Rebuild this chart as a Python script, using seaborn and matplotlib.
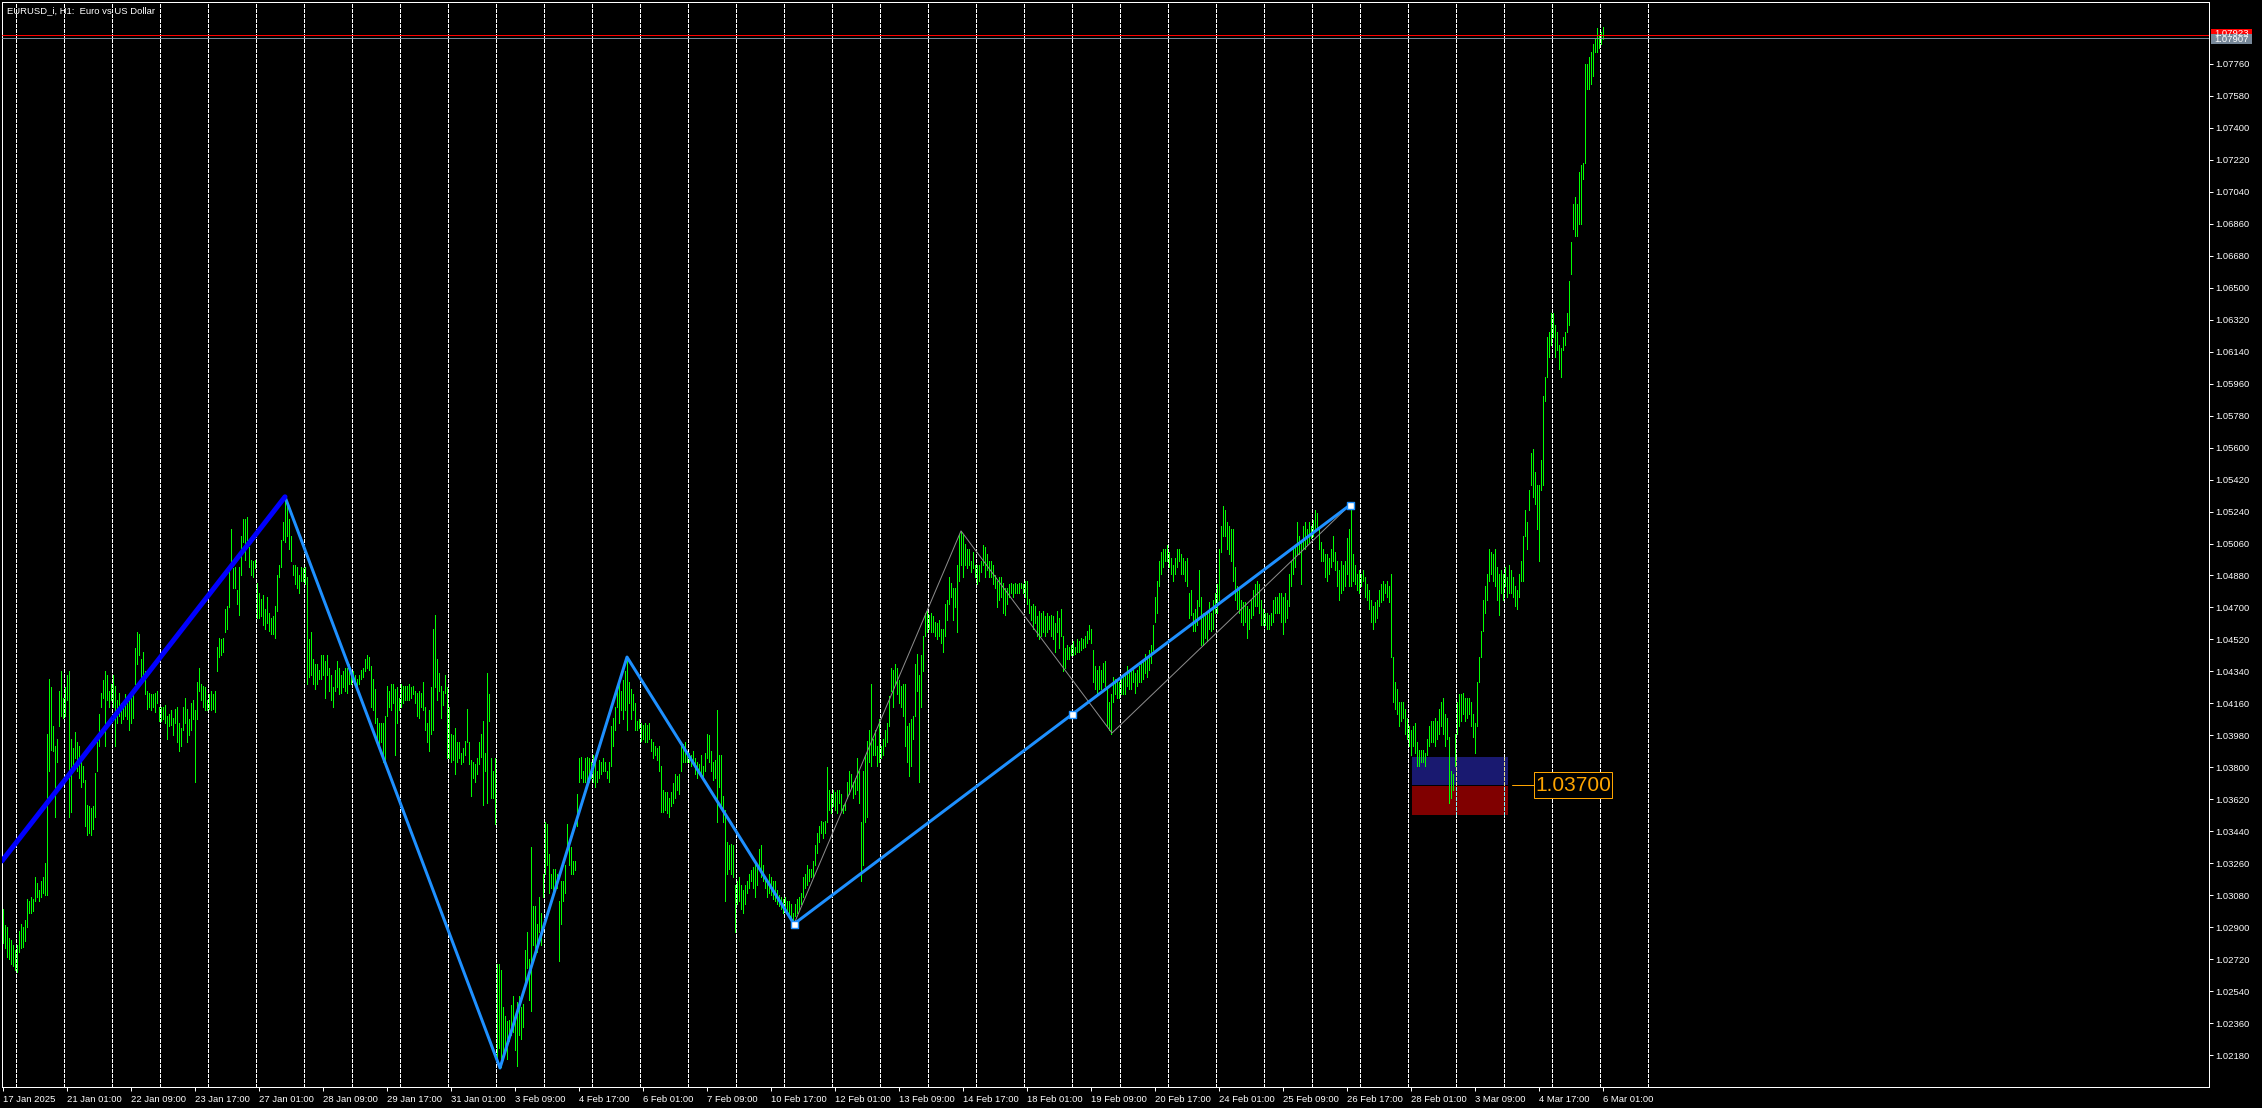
"""
Recreación del gráfico EURUSD_i H1 (estilo MetaTrader) con seaborn + matplotlib.
"""
import numpy as np
import pandas as pd
import matplotlib
matplotlib.use("Agg")
import matplotlib.pyplot as plt
from matplotlib.patches import Rectangle
import seaborn as sns

# ── Datos ────────────────────────────────────────────────────────────────────
SYMBOL_TITLE = "EURUSD_i, H1:  Euro vs US Dollar"

# Máximos / mínimos de cada vela H1, en pips sobre 1.0000 (precio = 1 + v/10000)
BAR_HIGH = [
    300, 291, 290, 284, 283, 280, 277, 280, 288, 292, 290, 294, 306, 305, 307, 306, 318, 315, 311, 316, 318, 326, 399,  # 0-22
    430, 425, 403, 392, 396, 423, 434, 419, 425, 432, 434, 396, 391, 400, 394, 392, 383, 381, 373, 359, 358, 357, 358, 377,  # 23-46
    394, 410, 422, 429, 434, 432, 423, 427, 432, 426, 418, 422, 416, 416, 421, 416, 418, 419, 423, 447, 456, 455, 441, 445,  # 47-70
    434, 423, 422, 421, 421, 422, 423, 414, 414, 414, 415, 409, 410, 412, 408, 413, 414, 405, 402, 414, 419, 413, 407, 416,  # 71-94
    418, 412, 428, 436, 427, 426, 425, 418, 421, 423, 421, 423, 448, 453, 452, 453, 469, 471, 494, 514, 492, 493, 480, 493,  # 95-118
    510, 520, 520, 521, 504, 497, 496, 497, 484, 478, 475, 477, 469, 476, 467, 464, 465, 471, 488, 494, 508, 518, 532, 528,  # 119-142
    520, 510, 494, 494, 493, 488, 493, 492, 493, 487, 452, 456, 441, 438, 438, 435, 443, 443, 440, 443, 436, 432, 425, 435,  # 143-166
    440, 436, 432, 434, 436, 436, 438, 435, 434, 432, 430, 432, 435, 436, 441, 443, 442, 437, 430, 424, 408, 405, 405, 405,  # 167-190
    409, 426, 423, 427, 427, 424, 425, 419, 427, 426, 426, 426, 427, 425, 426, 423, 422, 423, 422, 428, 414, 405, 412, 425,  # 191-214
    458, 466, 441, 433, 426, 423, 432, 425, 414, 399, 398, 402, 394, 394, 388, 391, 395, 413, 394, 384, 383, 382, 385, 394,  # 215-238
    399, 406, 388, 433, 421, 385, 378, 385, 269, 269, 266, 245, 240, 237, 238, 246, 251, 239, 248, 251, 245, 247, 277, 287,  # 239-262
    272, 335, 302, 302, 292, 307, 298, 320, 349, 348, 331, 320, 323, 323, 320, 305, 316, 316, 325, 348, 338, 335, 327, 327,  # 263-286
    365, 385, 386, 378, 385, 386, 385, 383, 387, 385, 378, 384, 383, 385, 383, 378, 383, 403, 408, 414, 425, 429, 423, 429,  # 287-310
    434, 442, 428, 424, 421, 416, 406, 407, 405, 404, 405, 404, 405, 396, 394, 392, 391, 392, 381, 367, 366, 366, 363, 366,  # 311-334
    371, 376, 375, 376, 392, 393, 394, 389, 388, 387, 389, 385, 383, 382, 387, 381, 388, 399, 398, 389, 383, 384, 412, 387,  # 335-358
    387, 364, 356, 338, 336, 337, 336, 314, 316, 318, 314, 311, 314, 316, 320, 322, 324, 327, 325, 334, 336, 325, 319, 316,  # 359-382
    320, 318, 316, 316, 311, 308, 307, 306, 307, 305, 305, 303, 298, 303, 306, 307, 309, 318, 320, 325, 323, 323, 327, 336,  # 383-406
    343, 347, 350, 349, 350, 380, 367, 365, 367, 366, 367, 367, 365, 359, 360, 372, 378, 376, 372, 374, 385, 378, 349, 378,  # 407-430
    387, 395, 401, 427, 396, 401, 392, 407, 392, 396, 401, 405, 420, 436, 435, 438, 436, 429, 426, 427, 427, 403, 405, 407,  # 431-454
    409, 438, 444, 432, 443, 454, 467, 468, 466, 467, 465, 462, 461, 463, 458, 458, 472, 474, 487, 484, 481, 481, 494, 511,  # 455-478
    513, 511, 506, 503, 503, 496, 501, 494, 494, 494, 496, 505, 504, 500, 496, 496, 494, 488, 485, 487, 487, 484, 481, 481,  # 479-502
    483, 484, 483, 484, 483, 484, 484, 483, 485, 485, 475, 471, 472, 471, 465, 468, 467, 468, 465, 467, 465, 466, 465, 461,  # 503-526
    468, 464, 469, 454, 447, 449, 448, 449, 451, 448, 452, 451, 453, 452, 454, 457, 460, 458, 446, 437, 435, 437, 435, 439,  # 527-550
    440, 424, 417, 421, 431, 430, 428, 428, 430, 431, 433, 437, 435, 435, 435, 433, 435, 437, 439, 440, 444, 442, 446, 449,  # 551-574
    460, 476, 485, 496, 501, 503, 503, 505, 501, 498, 494, 498, 503, 503, 500, 498, 496, 498, 478, 480, 467, 469, 474, 491,  # 575-598
    476, 467, 467, 467, 473, 467, 474, 478, 483, 503, 516, 527, 525, 518, 516, 514, 514, 493, 482, 480, 474, 473, 473, 471,  # 599-622
    469, 474, 480, 483, 485, 483, 474, 469, 467, 467, 466, 467, 474, 476, 476, 478, 478, 476, 478, 474, 489, 496, 503, 505,  # 623-646
    518, 510, 507, 516, 518, 514, 518, 516, 519, 525, 523, 514, 507, 503, 500, 500, 498, 503, 510, 501, 496, 491, 496, 494,  # 647-670
    496, 509, 514, 527, 500, 494, 489, 491, 489, 491, 487, 483, 480, 474, 471, 473, 474, 480, 483, 485, 483, 485, 482, 489,  # 671-694
    442, 428, 424, 417, 417, 417, 413, 408, 403, 401, 403, 405, 394, 390, 390, 390, 388, 396, 403, 406, 406, 408, 406, 413,  # 695-718
    417, 419, 410, 408, 397, 378, 376, 399, 417, 421, 421, 422, 419, 419, 419, 417, 410, 405, 428, 442, 457, 474, 482, 489,  # 719-742
    503, 501, 500, 503, 493, 489, 491, 489, 493, 487, 494, 491, 487, 482, 480, 489, 496, 510, 525, 518, 536, 557, 559, 546,  # 743-766
    539, 539, 553, 589, 600, 622, 625, 636, 636, 629, 625, 618, 616, 622, 625, 636, 654, 676, 697, 701, 697, 715, 719, 720,  # 767-790
    776, 776, 780, 783, 787, 790, 796, 792, 794, 797,  # 791-800
]
BAR_LOW = [
    281, 278, 273, 272, 269, 268, 266, 265, 276, 278, 279, 282, 290, 298, 298, 299, 305, 307, 305, 307, 309, 308, 308,  # 0-22
    378, 390, 389, 352, 383, 403, 409, 408, 409, 418, 352, 355, 378, 385, 378, 374, 369, 372, 347, 342, 343, 342, 345, 352,  # 23-46
    378, 392, 414, 419, 392, 418, 414, 418, 414, 392, 405, 409, 405, 407, 409, 407, 401, 405, 408, 427, 438, 443, 429, 432,  # 47-70
    421, 413, 414, 412, 414, 411, 416, 406, 406, 407, 405, 396, 403, 404, 398, 405, 394, 389, 392, 401, 405, 394, 398, 401,  # 71-94
    407, 372, 407, 423, 418, 414, 412, 412, 413, 412, 413, 411, 434, 442, 443, 445, 456, 458, 470, 492, 481, 481, 472, 466,  # 95-118
    488, 507, 497, 508, 493, 488, 487, 492, 464, 464, 465, 460, 458, 461, 457, 455, 455, 453, 468, 487, 493, 508, 507, 510,  # 119-142
    503, 496, 488, 483, 481, 478, 485, 485, 483, 427, 431, 432, 427, 424, 427, 430, 430, 432, 419, 432, 423, 418, 414, 423,  # 143-166
    425, 421, 422, 425, 423, 422, 427, 427, 430, 426, 425, 427, 430, 431, 434, 436, 435, 414, 412, 405, 396, 392, 394, 383,  # 167-190
    383, 409, 414, 412, 416, 387, 405, 412, 414, 416, 418, 418, 418, 419, 421, 416, 409, 408, 414, 412, 401, 394, 389, 399,  # 191-214
    401, 425, 418, 423, 408, 415, 422, 385, 385, 383, 384, 376, 383, 385, 382, 383, 387, 394, 382, 364, 374, 372, 376, 382,  # 215-238
    386, 359, 378, 360, 406, 363, 363, 348, 214, 222, 211, 219, 220, 216, 226, 229, 231, 221, 212, 229, 227, 234, 258, 267,  # 239-262
    249, 243, 280, 276, 276, 287, 280, 307, 320, 325, 309, 312, 307, 314, 312, 271, 292, 305, 309, 334, 325, 320, 320, 322,  # 263-286
    347, 372, 374, 372, 372, 369, 372, 374, 372, 369, 372, 374, 376, 378, 378, 374, 372, 381, 392, 401, 414, 405, 412, 407,  # 287-310
    412, 401, 416, 407, 412, 401, 401, 402, 395, 396, 394, 394, 396, 389, 385, 387, 384, 378, 355, 355, 356, 354, 352, 358,  # 311-334
    360, 363, 367, 365, 378, 383, 383, 383, 383, 381, 382, 376, 374, 378, 376, 374, 378, 385, 383, 378, 373, 374, 349, 369,  # 335-358
    358, 349, 305, 320, 323, 320, 318, 287, 303, 305, 300, 298, 303, 309, 312, 316, 312, 307, 314, 323, 318, 316, 312, 307,  # 359-382
    309, 308, 306, 305, 303, 302, 300, 298, 299, 298, 297, 295, 291, 296, 298, 300, 303, 307, 312, 314, 316, 318, 318, 325,  # 383-406
    332, 338, 343, 340, 343, 349, 356, 354, 358, 356, 354, 360, 356, 354, 356, 363, 365, 369, 363, 365, 367, 360, 316, 325,  # 407-430
    349, 352, 383, 381, 387, 387, 381, 383, 385, 387, 392, 394, 403, 423, 414, 427, 421, 416, 414, 409, 392, 383, 375, 381,  # 431-454
    396, 409, 423, 372, 414, 434, 454, 456, 458, 456, 456, 454, 452, 454, 450, 445, 454, 463, 472, 476, 463, 470, 456, 485,  # 455-478
    494, 487, 494, 492, 494, 490, 492, 487, 483, 485, 490, 494, 487, 491, 487, 487, 483, 481, 470, 474, 476, 467, 466, 472,  # 479-502
    476, 478, 476, 478, 478, 478, 481, 478, 476, 472, 467, 463, 458, 461, 454, 452, 454, 456, 454, 456, 458, 454, 452, 445,  # 503-526
    456, 447, 454, 434, 436, 441, 441, 443, 443, 444, 445, 445, 446, 447, 448, 450, 452, 450, 428, 424, 421, 424, 424, 428,  # 527-550
    426, 403, 401, 399, 417, 421, 419, 419, 421, 421, 421, 426, 424, 424, 428, 422, 426, 428, 428, 430, 433, 431, 435, 439,  # 551-574
    446, 462, 467, 482, 489, 493, 496, 496, 493, 489, 485, 489, 493, 496, 489, 489, 485, 482, 464, 466, 457, 457, 460, 471,  # 575-598
    449, 449, 453, 451, 458, 457, 458, 467, 467, 474, 501, 510, 510, 503, 500, 496, 485, 474, 469, 467, 462, 460, 462, 453,  # 599-622
    458, 464, 466, 471, 471, 467, 460, 460, 460, 458, 458, 460, 462, 467, 467, 467, 462, 455, 462, 464, 471, 482, 489, 493,  # 623-646
    500, 500, 483, 503, 503, 505, 507, 509, 510, 514, 514, 503, 496, 496, 487, 485, 489, 493, 496, 491, 482, 474, 478, 480,  # 647-670
    482, 489, 482, 482, 485, 483, 480, 478, 482, 485, 476, 474, 469, 462, 458, 462, 464, 471, 473, 474, 478, 476, 473, 442,  # 671-694
    417, 413, 410, 403, 406, 408, 399, 396, 392, 387, 392, 388, 381, 381, 383, 383, 381, 387, 392, 394, 394, 392, 396, 399,  # 695-718
    403, 399, 392, 396, 360, 363, 367, 381, 399, 403, 406, 410, 406, 408, 410, 403, 397, 388, 403, 428, 442, 457, 467, 474,  # 719-742
    485, 489, 485, 482, 474, 466, 478, 474, 482, 476, 478, 478, 476, 471, 469, 476, 485, 485, 510, 503, 525, 539, 532, 528,  # 743-766
    514, 496, 536, 539, 586, 600, 611, 618, 622, 611, 615, 604, 600, 615, 618, 625, 629, 658, 683, 679, 679, 686, 686, 711,  # 767-790
    720, 762, 762, 765, 769, 783, 783, 785, 787, 790,  # 791-800
]

# Etiquetas del eje de tiempo (una cada 32 velas)
X_TICK_BARS = [0, 32, 64, 96, 128, 160, 192, 224, 256, 288, 320, 352, 384,
               416, 448, 480, 512, 544, 576, 608, 640, 672, 704, 736, 768, 800]
X_TICK_LABELS = ["17 Jan 2025", "21 Jan 01:00", "22 Jan 09:00", "23 Jan 17:00",
                 "27 Jan 01:00", "28 Jan 09:00", "29 Jan 17:00", "31 Jan 01:00",
                 "3 Feb 09:00", "4 Feb 17:00", "6 Feb 01:00", "7 Feb 09:00",
                 "10 Feb 17:00", "12 Feb 01:00", "13 Feb 09:00", "14 Feb 17:00",
                 "18 Feb 01:00", "19 Feb 09:00", "20 Feb 17:00", "24 Feb 01:00",
                 "25 Feb 09:00", "26 Feb 17:00", "28 Feb 01:00", "3 Mar 09:00",
                 "4 Mar 17:00", "6 Mar 01:00"]

# ZigZag: tramo mayor (azul grueso), intermedio (azul claro) y menor (gris fino)
ZZ_MAJOR_BARS = [-0.5, 141]
ZZ_MAJOR_PRICE = [1.03273, 1.05323]
ZZ_MID_BARS = [141, 248.5, 312, 395.5, 673.5]
ZZ_MID_PRICE = [1.05323, 1.02107, 1.04421, 1.02918, 1.05277]
ZZ_MINOR_BARS = [395.5, 479, 554.5, 673.5]
ZZ_MINOR_PRICE = [1.02918, 1.05131, 1.03993, 1.05277]
ANCHOR_BARS = [395.5, 534.5, 673.5]
ANCHOR_PRICE = [1.02918, 1.04098, 1.05277]

ASK_PRICE = 1.07923
BID_PRICE = 1.07907
ZONE_BARS = [704.5, 752.5]
ZONE_UPPER = [1.03702, 1.03860]
ZONE_LOWER = [1.03530, 1.03692]
LEVEL_PRICE = 1.03700

# ── Estilo ───────────────────────────────────────────────────────────────────
sns.set_theme(style="dark", rc={"axes.facecolor": "black",
                                "figure.facecolor": "black",
                                "axes.grid": False})
plt.rcParams["font.family"] = ["Liberation Sans", "DejaVu Sans"]

W, H = 2262, 1108
PX = 0.72                      # 1 píxel en puntos (dpi=100)
FS = 6.8
fig = plt.figure(figsize=(W / 100, H / 100), dpi=100, facecolor="black")
ax = fig.add_axes([2 / W, 21 / H, 2207 / W, 1085 / H], facecolor="black")
YMIN, YMAX = 1.02000, 1.08109
ax.set_xlim(-0.5, 1103)
ax.set_ylim(YMIN, YMAX)

# ── Rejilla vertical punteada ────────────────────────────────────────────────
grid_x = np.arange(6.5, 823, 24)
ax.vlines(grid_x, YMIN, YMAX, colors="white", linewidth=PX,
          linestyles=(0, (3, 2)), antialiased=False, zorder=1)

# ── Zona (rectángulos) ───────────────────────────────────────────────────────
zw = ZONE_BARS[1] - ZONE_BARS[0]
ax.add_patch(Rectangle((ZONE_BARS[0], ZONE_UPPER[0]), zw, ZONE_UPPER[1] - ZONE_UPPER[0],
                       facecolor="#191970", edgecolor="none", zorder=2))
ax.add_patch(Rectangle((ZONE_BARS[0], ZONE_LOWER[0]), zw, ZONE_LOWER[1] - ZONE_LOWER[0],
                       facecolor="#800000", edgecolor="none", zorder=2))
gz = grid_x[(grid_x > ZONE_BARS[0]) & (grid_x < ZONE_BARS[1])]
ax.vlines(gz, ZONE_UPPER[0], ZONE_UPPER[1], colors="#e6e68f", linewidth=PX,
          linestyles=(0, (3, 2)), antialiased=False, zorder=2.5)
ax.vlines(gz, ZONE_LOWER[0], ZONE_LOWER[1], colors="#7fffff", linewidth=PX,
          linestyles=(0, (3, 2)), antialiased=False, zorder=2.5)

# ── Velas (barras) ───────────────────────────────────────────────────────────
bars = pd.DataFrame({"bar": np.arange(len(BAR_HIGH)),
                     "high": 1 + np.array(BAR_HIGH) / 1e4,
                     "low": 1 + np.array(BAR_LOW) / 1e4})
ax.vlines(bars["bar"], bars["low"], bars["high"], colors="#00ff00",
          linewidth=PX, antialiased=False, zorder=3)

# ── Líneas de precio ask / bid ───────────────────────────────────────────────
ax.axhline(ASK_PRICE, color="#ff0000", linewidth=PX, zorder=3)
ax.axhline(BID_PRICE, color="#778899", linewidth=PX, zorder=3)

# ── ZigZag ───────────────────────────────────────────────────────────────────
sns.lineplot(x=ZZ_MINOR_BARS, y=ZZ_MINOR_PRICE, sort=False, estimator=None,
             color="#8c8c8c", linewidth=PX, ax=ax, zorder=4)
sns.lineplot(x=ZZ_MID_BARS, y=ZZ_MID_PRICE, sort=False, estimator=None,
             color="#1e90ff", linewidth=3 * PX, ax=ax, zorder=5)
sns.lineplot(x=ZZ_MAJOR_BARS, y=ZZ_MAJOR_PRICE, sort=False, estimator=None,
             color="#0000ff", linewidth=5 * PX, ax=ax, zorder=6)
sns.scatterplot(x=ANCHOR_BARS, y=ANCHOR_PRICE, marker="s", s=(7 * PX) ** 2,
                color="white", edgecolor="#1e90ff", linewidth=1.0, ax=ax, zorder=7)

# ── Etiqueta del nivel 1.03700 ───────────────────────────────────────────────
ax.plot([754.5, 765.5], [LEVEL_PRICE, LEVEL_PRICE], color="#ffa500",
        linewidth=PX, zorder=8)
ax.add_patch(Rectangle((765.5, 1.03627), 39, 0.00146, facecolor="black",
                       edgecolor="#ffa500", linewidth=PX, zorder=8))
ax.text(785, LEVEL_PRICE, f"{LEVEL_PRICE:.5f}", color="#ffa500", fontsize=15,
        ha="center", va="center", zorder=9)

# ── Ejes ─────────────────────────────────────────────────────────────────────
for sp in ax.spines.values():
    sp.set_color("white")
    sp.set_linewidth(PX)

yticks = np.round(np.arange(1.02180, 1.07761, 0.0018), 5)
ax.yaxis.tick_right()
ax.set_yticks(yticks)
ax.set_yticklabels([f"{v:.5f}" for v in yticks])
ax.tick_params(axis="y", left=False, right=True, direction="out", length=3,
               width=PX, pad=1.5, colors="white", labelsize=FS)

ax.set_xticks(X_TICK_BARS)
ax.set_xticklabels(X_TICK_LABELS)
ax.tick_params(axis="x", bottom=True, direction="out", length=3, width=PX,
               pad=2.5, colors="white", labelsize=FS)
for lbl in ax.get_xticklabels():
    lbl.set_ha("left")
ax.set_xlabel("")
ax.set_ylabel("")

# ── Etiquetas de precio a la derecha (ask tapada por bid) ────────────────────
def px_box(x0, y0, x1, y1, color, text):
    fig.add_artist(Rectangle((x0 / W, 1 - y1 / H), (x1 - x0) / W, (y1 - y0) / H,
                             transform=fig.transFigure, facecolor=color,
                             edgecolor="none"))
    fig.text((x0 + x1) / 2 / W, 1 - (y0 + y1) / 2 / H, text, color="white",
             fontsize=FS, ha="center", va="center")

px_box(2211, 29, 2252, 39, "#ff0000", f"{ASK_PRICE:.5f}")
px_box(2211, 34, 2252, 44, "#778899", f"{BID_PRICE:.5f}")

fig.text(7 / W, 1 - 13 / H, SYMBOL_TITLE, color="white", fontsize=FS,
         ha="left", va="baseline")

fig.savefig("out.png", dpi=100, facecolor="black")
plt.close(fig)
